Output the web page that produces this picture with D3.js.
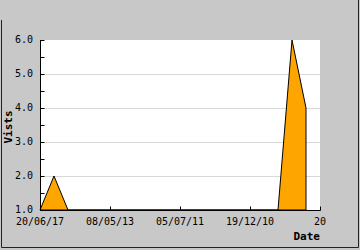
<!DOCTYPE html>
<html>
<head>
<meta charset="utf-8">
<script src="https://cdn.jsdelivr.net/npm/d3@7"></script>
<style>
  html, body { margin: 0; padding: 0; background: #c8c8c8; }
  svg { display: block; }
  text { font-family: 'DejaVu Sans Mono', monospace; font-size: 10px; fill: #000; }
</style>
</head>
<body>
<svg id="chart"></svg>
<script>
const width = 360
const height = 250

// data
const dayIndex = d3.range(0, 20)
const visits = [1, 2, 1, 1, 1, 1, 1, 1, 1, 1, 1, 1, 1, 1, 1, 1, 1, 1, 6, 4]
const xTickIndex = [0, 5, 10, 15, 20]
const xTickLabels = ['20/06/17', '08/05/13', '05/07/11', '19/12/10', '20']
const yTicks = [1, 2, 3, 4, 5, 6]

const margin = { top: 40, right: 40, bottom: 40, left: 40 }

const svg = d3.select('#chart')
  .attr('width', width)
  .attr('height', height)

svg.append('rect')
  .attr('width', width)
  .attr('height', height)
  .attr('fill', '#c8c8c8')

// border (bottom / right / left)
svg.append('path')
  .attr('d', `M1.5,20V${height - 2.5}H${width - 1.5}V0`)
  .attr('fill', 'none')
  .attr('stroke', '#222')

const x = d3.scaleLinear()
  .domain([0, 20])
  .range([margin.left, width - margin.right])

const y = d3.scaleLinear()
  .domain([1, 6])
  .range([height - margin.bottom, margin.top])

svg.append('rect')
  .attr('x', x(0))
  .attr('y', y(6))
  .attr('width', x(20) - x(0))
  .attr('height', y(1) - y(6))
  .attr('fill', '#fff')

// grid
svg.append('g')
  .selectAll('line')
  .data(yTicks.slice(1, -1))
  .enter().append('line')
  .attr('x1', x(0))
  .attr('x2', x(20))
  .attr('y1', d => Math.round(y(d)) + 0.5)
  .attr('y2', d => Math.round(y(d)) + 0.5)
  .attr('stroke', '#d8d8d8')

// area
const area = d3.area()
  .x((d, i) => x(dayIndex[i]))
  .y0(y(1))
  .y1(d => y(d))

svg.append('path')
  .datum(visits)
  .attr('d', area)
  .attr('fill', '#ffa500')
  .attr('stroke', '#000')
  .attr('stroke-width', 1)

// y axis
const yAxis = d3.axisRight(y)
  .tickValues(d3.range(1, 6.01, 0.5))
  .tickSize(4)
  .tickFormat('')
svg.append('g')
  .attr('transform', `translate(${x(0) + 0.5},0)`)
  .call(yAxis)
  .call(g => g.select('.domain').attr('d', `M0,${y(6)}V${y(1) + 0.5}`).attr('stroke', '#000'))
  .call(g => g.selectAll('.tick line').attr('stroke', '#000'))

svg.append('g')
  .selectAll('text')
  .data(yTicks)
  .enter().append('text')
  .attr('x', x(0) - 7)
  .attr('y', d => y(d) + 3)
  .attr('text-anchor', 'end')
  .text(d => d3.format('.1f')(d))

// x axis
const xAxis = d3.axisTop(x)
  .tickValues(xTickIndex)
  .tickSize(4)
  .tickFormat('')
svg.append('g')
  .attr('transform', `translate(0,${y(1) + 0.5})`)
  .call(xAxis)
  .call(g => g.select('.domain').attr('d', `M${x(0)},0H${x(20) + 0.5}`).attr('stroke', '#000'))
  .call(g => g.selectAll('.tick line').attr('stroke', '#000'))

svg.append('g')
  .selectAll('text')
  .data(xTickIndex)
  .enter().append('text')
  .attr('x', d => x(d))
  .attr('y', y(1) + 15)
  .attr('text-anchor', 'middle')
  .text((d, i) => xTickLabels[i])

// axis titles
svg.append('text')
  .attr('x', x(20))
  .attr('y', height - 10)
  .attr('text-anchor', 'end')
  .style('font-weight', 'bold')
  .style('font-size', '11px')
  .text('Date')

svg.append('text')
  .attr('transform', `translate(12,${(y(1) + y(6)) / 2 + 2}) rotate(-90)`)
  .attr('text-anchor', 'middle')
  .style('font-weight', 'bold')
  .style('font-size', '11px')
  .text('Vists')
</script>
</body>
</html>
